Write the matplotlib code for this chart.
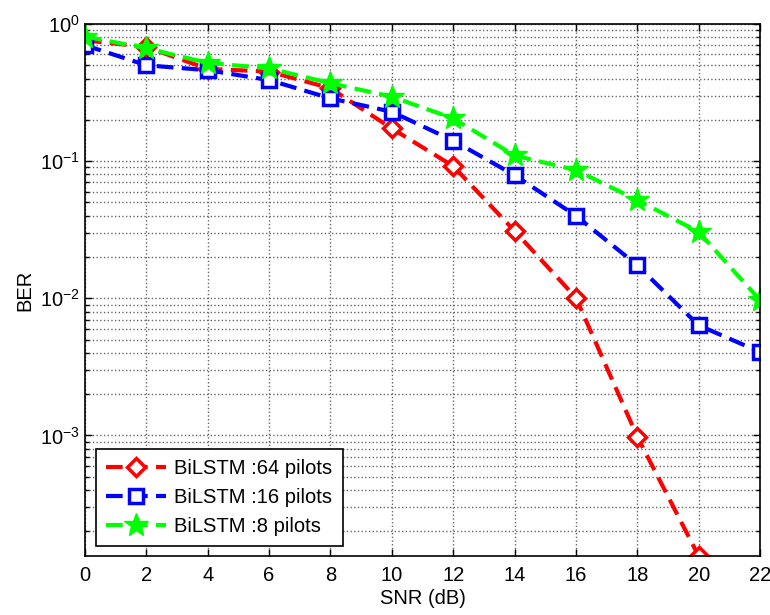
import numpy as np
import matplotlib
matplotlib.use('Agg')
import matplotlib.pyplot as plt
from matplotlib.ticker import LogLocator, NullFormatter

plt.rcParams['font.family'] = ['Liberation Sans', 'DejaVu Sans']
plt.rcParams['mathtext.fontset'] = 'custom'
plt.rcParams['mathtext.rm'] = 'Liberation Sans'
plt.rcParams['mathtext.it'] = 'Liberation Sans'

snr = [0, 2, 4, 6, 8, 10, 12, 14, 16, 18, 20, 22]
ber_64 = [0.76, 0.68, 0.47, 0.45, 0.34, 0.173, 0.092, 0.031, 0.0101, 0.00098, 0.000132]
ber_16 = [0.70, 0.50, 0.46, 0.39, 0.287, 0.229, 0.141, 0.079, 0.040, 0.0174, 0.00635, 0.00406]
ber_8 = [0.81, 0.665, 0.52, 0.475, 0.37, 0.295, 0.205, 0.11, 0.086, 0.052, 0.0305, 0.0097]
labels = ['BiLSTM :64 pilots', 'BiLSTM :16 pilots', 'BiLSTM :8 pilots']

fs = 14.5
fig = plt.figure(figsize=(7.7, 6.15), dpi=100)
ax = fig.add_axes([0.1104, 0.0959, 0.8766, 0.8651])

ax.semilogy(snr[:len(ber_64)], ber_64, color='red', ls='--', dashes=(4, 2), lw=3,
            marker='D', ms=9, mfc='white', mec='red', mew=2.5, label=labels[0])
ax.semilogy(snr, ber_16, color='blue', ls='--', dashes=(4, 2), lw=3,
            marker='s', ms=9.5, mfc='white', mec='blue', mew=2.5, label=labels[1])
ax.semilogy(snr, ber_8, color=(0, 1, 0), ls='--', dashes=(4, 2), lw=3,
            marker='*', ms=18, mfc=(0, 1, 0), mec=(0, 1, 0), label=labels[2])

ax.set_xlim(0, 22)
ax.set_ylim(1.32e-4, 1)
ax.set_xticks(range(0, 23, 2))
ax.yaxis.set_major_locator(LogLocator(base=10, numticks=10))
ax.yaxis.set_minor_locator(LogLocator(base=10, subs=np.arange(2, 10), numticks=20))
ax.yaxis.set_minor_formatter(NullFormatter())

ax.grid(True, which='major', color='0.4', ls=':', lw=1.0)
ax.grid(True, which='minor', axis='y', color='0.4', ls=':', lw=1.0)
ax.tick_params(which='both', direction='in', top=True, right=True, labelsize=fs)
ax.tick_params(which='major', length=5, width=1)
ax.tick_params(axis='x', pad=7)
ax.tick_params(which='minor', length=3, width=1)
for s in ax.spines.values():
    s.set_linewidth(1.2)

ax.set_xlabel('SNR (dB)', fontsize=fs, labelpad=3)
ax.set_ylabel('BER', fontsize=fs, labelpad=4)

leg = ax.legend(loc='lower left', bbox_to_anchor=(0.016, 0.018), borderaxespad=0, fontsize=fs,
                handlelength=3.0, fancybox=False, edgecolor='black', framealpha=1, borderpad=0.5,
                labelspacing=0.5, handletextpad=0.4)
leg.get_frame().set_linewidth(1.2)

fig.savefig('out.png', dpi=100)
